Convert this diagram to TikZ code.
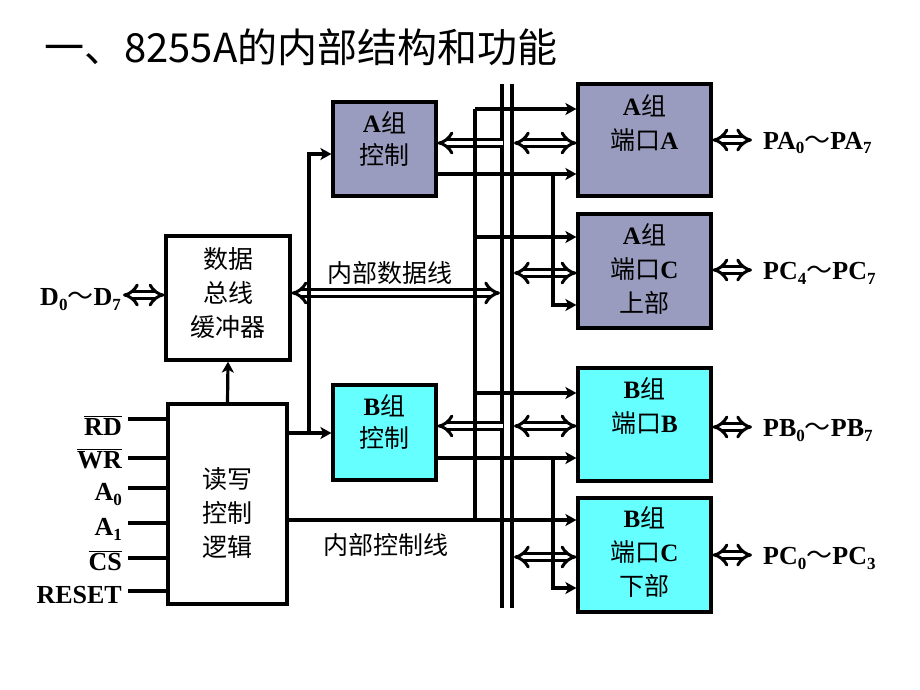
\documentclass[tikz,border=0pt]{standalone}
\usepackage{fontspec}
\setmainfont{Liberation Serif}
\newfontfamily\cjk{Noto Sans CJK SC}
\usetikzlibrary{arrows.meta}
\definecolor{grp}{RGB}{153,156,190}
\definecolor{cyn}{RGB}{102,255,255}
\newcommand\B[1]{{\rmfamily\bfseries #1}}
\newcommand\sbs[1]{\raisebox{-5pt}{\fontsize{17}{17}\selectfont\bfseries #1}}
\newcommand\tl{{\cjk\mdseries ～}}
\begin{document}
\begin{tikzpicture}[x=1pt,y=-1pt,
 box/.style={draw, line width=3.2pt, inner sep=0pt},
 ln/.style={line width=3.2pt},
 arr/.style={line width=3.2pt, -{Stealth[length=11pt,width=12pt,inset=3pt]}},
 dbl/.style={line width=3pt, double distance=4.5pt, {Implies}-{Implies}},
 dbll/.style={line width=3pt, double distance=4.5pt, -{Implies}},
 zhf/.style={font=\cjk\fontsize{25}{34}\selectfont, align=center, inner sep=0pt},
 lab/.style={font=\bfseries\fontsize{26}{26}\selectfont, inner sep=0pt},
]
\fill[white] (0,0) rectangle (920,690);
\path[use as bounding box] (0,0) rectangle (920,690);

% title
\node[anchor=west, inner sep=0pt, font=\cjk\fontsize{40}{40}\selectfont] (title) at (44,47) {一、8255A的内部结构和功能};

% boxes
\node[box, fill=white, minimum width=124pt, minimum height=124pt] (dbb) at (228,298) {};
\node[zhf] (dbbt) at (228,293) {数据\\总线\\缓冲器};
\node[box, fill=white, minimum width=119pt, minimum height=200pt] (rw) at (227.5,504) {};
\node[zhf] (rwt) at (227.5,513) {读写\\控制\\逻辑};
\node[box, fill=grp, minimum width=103pt, minimum height=94pt] (actl) at (384.5,149) {};
\node[zhf, font=\cjk\fontsize{25}{32}\selectfont] (actlt) at (384.5,139) {\B{A}组\\控制};
\node[box, fill=cyn, minimum width=103pt, minimum height=95pt] (bctl) at (384.5,432.5) {};
\node[zhf, font=\cjk\fontsize{25}{32}\selectfont] (bctlt) at (384.5,422) {\B{B}组\\控制};
\node[box, fill=grp, minimum width=133pt, minimum height=112pt] (pa) at (644.5,140) {};
\node[zhf] (pat) at (644.5,123) {\B{A}组\\端口\B{A}};
\node[box, fill=grp, minimum width=133pt, minimum height=114pt] (pcu) at (644.5,271) {};
\node[zhf] (pcut) at (644.5,269) {\B{A}组\\端口\B{C}\\上部};
\node[box, fill=cyn, minimum width=133pt, minimum height=113pt] (pb) at (644.5,424.5) {};
\node[zhf] (pbt) at (644.5,406) {\B{B}组\\端口\B{B}};
\node[box, fill=cyn, minimum width=133pt, minimum height=114pt] (pcl) at (644.5,555) {};
\node[zhf] (pclt) at (644.5,552) {\B{B}组\\端口\B{C}\\下部};

% bus
\coordinate (bt1) at (502,84); \coordinate (bb1) at (502,608);
\coordinate (bt2) at (512,84); \coordinate (bb2) at (512,608);
\draw[ln] (bt1) -- (bb1);
\draw[ln] (bt2) -- (bb2);

% internal data line
\coordinate (dlr) at (500,293);
\draw[dbl] (dbb.east |- dlr) -- (dlr);
\node[zhf] (dlt) at (390,273) {内部数据线};

% D0~D7
\node[lab, anchor=base east] (dlab) at (121,305) {D\sbs{0}\tl D\sbs{7}};
\coordinate (dle) at (123,295);
\draw[dbl] (dle) -- (dle -| dbb.west);

% rw -> dbb
\draw[arr] (rw.north) -- (dbb.south);

% rw -> control groups
\coordinate (cj) at (309,433);
\coordinate (ca) at (309,154);
\draw[arr] (rw.east |- cj) -- (cj -| bctl.west);
\draw[arr] (cj) -- (ca) -- (ca -| actl.west);

% bus -> control groups
\coordinate (ba) at (503,143);
\draw[dbll] (ba) -- (ba -| actl.east);
\coordinate (bb) at (503,426);
\draw[dbll] (bb) -- (bb -| bctl.east);

% bus <-> ports
\coordinate (pd1) at (514,143);
\coordinate (pd2) at (514,273);
\coordinate (pd3) at (514,426);
\coordinate (pd4) at (514,557);
\draw[dbl] (pd1) -- (pd1 -| pa.west);
\draw[dbl] (pd2) -- (pd2 -| pcu.west);
\draw[dbl] (pd3) -- (pd3 -| pb.west);
\draw[dbl] (pd4) -- (pd4 -| pcl.west);

% internal control line
\coordinate (v1) at (475,109);
\coordinate (v2) at (475,237);
\coordinate (v3) at (475,393);
\coordinate (v4) at (475,520);
\draw[ln] (v1) -- (v4);
\draw[arr] (v1) -- (v1 -| pa.west);
\draw[arr] (v2) -- (v2 -| pcu.west);
\draw[arr] (v3) -- (v3 -| pb.west);
\draw[arr] (rw.east |- v4) -- (v4 -| pcl.west);
\node[zhf] (clt) at (386,545) {内部控制线};

% A control outputs
\coordinate (ao) at (436,174);
\coordinate (ad) at (553,174);
\coordinate (ae) at (553,305);
\draw[arr] (actl.east |- ao) -- (ao -| pa.west);
\draw[arr] (ad) -- (ae) -- (ae -| pcu.west);

% B control outputs
\coordinate (bo) at (436,458);
\coordinate (bd) at (553,458);
\coordinate (be) at (553,588);
\draw[arr] (bctl.east |- bo) -- (bo -| pb.west);
\draw[arr] (bd) -- (be) -- (be -| pcl.west);

% inputs
\node[lab, anchor=base east] (rd) at (122,435) {$\overline{\mbox{RD}}$};
\node[lab, anchor=base east] (wr) at (122,468) {$\overline{\mbox{WR}}$};
\node[lab, anchor=base east] (a0) at (122,500) {A\sbs{0}};
\node[lab, anchor=base east] (a1) at (122,535) {A\sbs{1}};
\node[lab, anchor=base east] (cs) at (122,570) {$\overline{\mbox{CS}}$};
\node[lab, anchor=base east] (rst) at (122,603) {RESET};
\coordinate (i1) at (128,419);
\coordinate (i2) at (128,458);
\coordinate (i3) at (128,488);
\coordinate (i4) at (128,523);
\coordinate (i5) at (128,558);
\coordinate (i6) at (128,591);
\foreach \i in {i1,i2,i3,i4,i5,i6} \draw[ln] (\i) -- (\i -| rw.west);

% port outputs
\coordinate (ra) at (752,140);
\coordinate (rc) at (752,270);
\coordinate (rb) at (752,427);
\coordinate (rd2) at (752,555);
\draw[dbl] (pa.east |- ra) -- (ra);
\draw[dbl] (pcu.east |- rc) -- (rc);
\draw[dbl] (pb.east |- rb) -- (rb);
\draw[dbl] (pcl.east |- rd2) -- (rd2);
\node[lab, anchor=base west] (pal) at (763,149) {PA\sbs{0}\tl PA\sbs{7}};
\node[lab, anchor=base west] (pcul) at (763,279) {PC\sbs{4}\tl PC\sbs{7}};
\node[lab, anchor=base west] (pbl) at (763,436) {PB\sbs{0}\tl PB\sbs{7}};
\node[lab, anchor=base west] (pcll) at (763,564) {PC\sbs{0}\tl PC\sbs{3}};
\end{tikzpicture}
\end{document}
